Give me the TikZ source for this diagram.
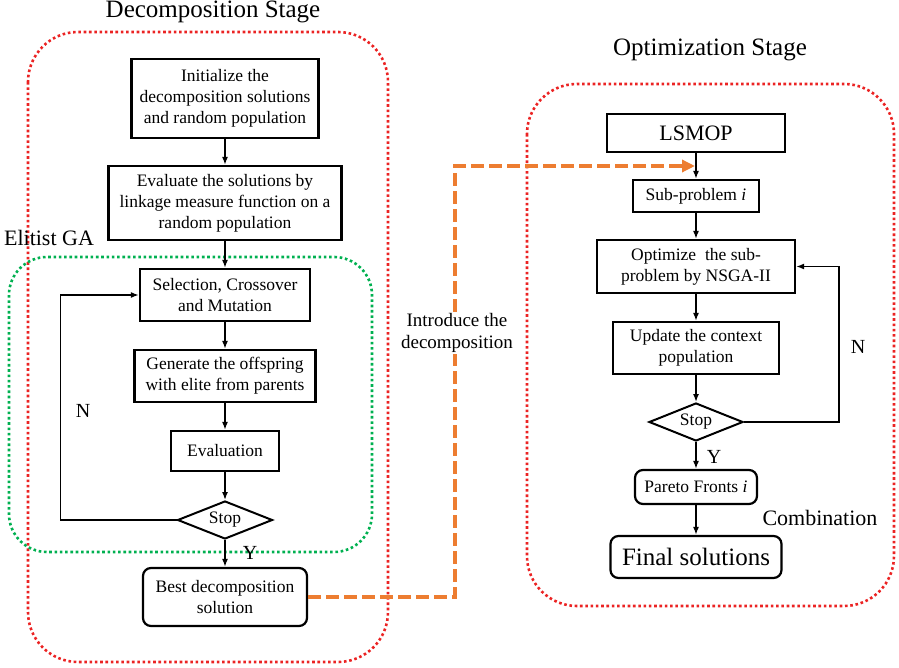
\documentclass[tikz,border=0pt]{standalone}
\usepackage{fontspec}
\setmainfont{Liberation Serif}
\usetikzlibrary{arrows.meta,shapes.geometric}
\definecolor{stagered}{RGB}{235,35,35}
\definecolor{gagreen}{RGB}{0,176,80}
\definecolor{linkorange}{RGB}{237,125,49}
\begin{document}
\begin{tikzpicture}[x=1pt,y=-1pt,
  box/.style={draw,line width=2.2pt,align=center,inner sep=0pt,font=\fontsize{17.5}{21}\selectfont},
  rbox/.style={box,rounded corners=8pt},
  stopbox/.style={draw,diamond,aspect=2.5,line width=2pt,inner sep=0pt,minimum width=95pt,minimum height=38pt,font=\fontsize{17.5}{21}\selectfont},
  arr/.style={-{Latex[length=8pt,width=6pt]},line width=1.5pt},
  stagebox/.style={draw=stagered,line width=2.6pt,dash pattern=on 2.6pt off 2.7pt,rounded corners=50pt},
  gabox/.style={draw=gagreen,line width=2.6pt,dash pattern=on 2.6pt off 2.7pt,rounded corners=38pt},
  link/.style={draw=linkorange,line width=4pt,dash pattern=on 13pt off 5pt,-{Triangle[length=13pt,width=12pt,fill=linkorange]}},
  lbl/.style={anchor=base,inner sep=0pt,font=\fontsize{20}{24}\selectfont}]
\useasboundingbox (0,0) rectangle (899,668);
\draw[stagebox] (28,32) rectangle (388,662);
\draw[gabox] (9,257) rectangle (372,552);
\draw[stagebox] (527,84) rectangle (894,606);
\node[lbl,font=\fontsize{25}{30}\selectfont] (t1) at (213,18) {Decomposition Stage};
\node[lbl,font=\fontsize{25}{30}\selectfont] (t2) at (710,56) {Optimization Stage};
\node[lbl,font=\fontsize{22}{26}\selectfont] (ega) at (49,246) {Elitist GA};
\node[box,minimum width=187pt,minimum height=79pt] (init) at (225,98.5) {Initialize the\\decomposition solutions\\and random population};
\node[box,minimum width=233pt,minimum height=74pt] (evs) at (225,203) {Evaluate the solutions by\\linkage measure function on a\\random population};
\node[box,minimum width=170pt,minimum height=52pt] (sel) at (225,295) {Selection, Crossover\\and Mutation};
\node[box,minimum width=181pt,minimum height=52pt] (gen) at (225,376) {Generate the offspring\\with elite from parents};
\node[box,minimum width=108pt,minimum height=40pt] (eva) at (225,451) {Evaluation};
\node[stopbox] (sa) at (225,520) {Stop};
\node[rbox,minimum width=164pt,minimum height=58pt] (best) at (225,597) {Best decomposition\\solution};
\node[box,minimum width=178pt,minimum height=38pt,font=\fontsize{22}{26}\selectfont] (ls) at (696,133) {LSMOP};
\node[box,minimum width=126pt,minimum height=32pt] (sub) at (696,196) {Sub-problem \textit{i}};
\node[box,minimum width=198pt,minimum height=53pt] (opt) at (696,266.5) {Optimize~~the sub-\\problem by NSGA-II};
\node[box,minimum width=166pt,minimum height=52pt] (upd) at (696,348) {Update the context\\population};
\node[stopbox,minimum width=94pt] (sb) at (696,422) {Stop};
\node[rbox,minimum width=122pt,minimum height=34pt] (par) at (696,487) {Pareto Fronts \textit{i}};
\node[rbox,minimum width=171pt,minimum height=42pt,font=\fontsize{25}{30}\selectfont] (fin) at (696,557) {Final solutions};
\coordinate (hit) at (695,166);
\draw[link] (best.east) -| (455,166) -- (hit);
\node[align=center,fill=white,inner sep=1pt,font=\fontsize{19}{22}\selectfont] (intro) at (457,333) {Introduce the\\decomposition};
\draw[arr] (init) -- (evs);
\draw[arr] (evs) -- (sel);
\draw[arr] (sel) -- (gen);
\draw[arr] (gen) -- (eva);
\draw[arr] (eva) -- (sa);
\draw[arr] (sa) -- (best);
\draw[arr] (sa.west) -- ++(-116,0) |- (sel.west);
\draw[arr] (ls) -- (sub);
\draw[arr] (sub) -- (opt);
\draw[arr] (opt) -- (upd);
\draw[arr] (upd) -- (sb);
\draw[arr] (sb) -- (par);
\draw[arr] (par) -- (fin);
\draw[arr] (sb.east) -- ++(95,0) |- (opt.east);
\node[lbl] (n1) at (83,417) {N};
\node[lbl] (y1) at (250,559) {Y};
\node[lbl] (n2) at (858,353) {N};
\node[lbl] (y2) at (714,463) {Y};
\node[lbl,font=\fontsize{22}{26}\selectfont] (comb) at (820,525) {Combination};
\end{tikzpicture}
\end{document}
